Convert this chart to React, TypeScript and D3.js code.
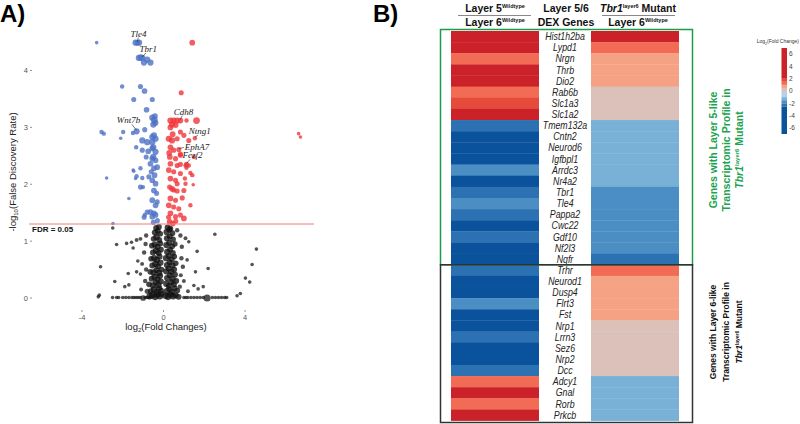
import React from "react";
import * as d3 from "d3";

// ---------- Panel A: volcano plot data (log2FC, -log10 FDR, weight) ----------
const bluePoints: number[][] = [
  [-3.28, 4.49, 1], [-1.37, 4.49, 3], [-1.27, 4.49, 2.5], [-1.2, 4.49, 3],
  [-1.21, 4.22, 3], [-1.12, 4.23, 3], [-1.04, 4.22, 3], [-0.96, 4.14, 3], [-0.8, 4.19, 3], [-0.64, 4.14, 3],
  [-2.03, 3.72, 1.5], [-1.13, 3.72, 2], [-0.93, 3.64, 2.5], [-1.46, 3.49, 2], [-0.55, 3.49, 2], [-0.83, 3.31, 2.5],
  [-0.55, 3.17, 3], [-0.45, 3.13, 3.5], [-0.4, 3.08, 3], [-0.5, 3.05, 3], [-0.42, 3.2, 2.5],
  [-3.04, 2.92, 1.5], [-2.93, 2.89, 1.5], [-2.1, 2.81, 1], [-1.98, 2.92, 1.5], [-1.5, 2.9, 1.5],
  [-1.32, 2.93, 3], [-1.34, 2.65, 1.5], [-0.92, 2.96, 2],
  [-1.04, 2.77, 3], [-0.8, 2.74, 3], [-0.55, 2.83, 3], [-0.47, 2.86, 3], [-0.39, 2.8, 3], [-0.55, 2.74, 3],
  [-0.75, 2.58, 2.5], [-0.5, 2.65, 3], [-0.39, 2.57, 3], [-0.5, 2.48, 3],
  [-1.04, 2.6, 2], [-0.55, 2.63, 2.5], [-0.85, 2.48, 2], [-0.55, 2.45, 2.5], [-0.39, 2.42, 2.5],
  [-0.64, 2.36, 2.5], [-0.31, 2.3, 2.5], [-0.47, 2.28, 2.5], [-1.13, 2.28, 1.5], [-1.49, 2.25, 1],
  [-0.6, 2.22, 2], [-0.44, 2.16, 2.5], [-0.72, 2.13, 2], [-2.79, 2.11, 1], [-1.37, 2.1, 1], [-1.04, 2.11, 1.5],
  [-0.55, 2.07, 2.5], [-0.39, 2.01, 2.5], [-0.47, 1.89, 2.5], [-0.34, 1.84, 2], [-1.13, 1.95, 2], [-1.7, 1.75, 1],
  [-0.55, 1.72, 2.5], [-0.31, 1.69, 2], [-0.39, 1.63, 2.5], [-0.64, 1.51, 2.5], [-0.47, 1.49, 2.5],
  [-0.55, 1.43, 2.5], [-0.39, 1.46, 2.5], [-0.92, 1.46, 1.5], [-2.48, 1.31, 1], [-1.32, 2.14, 1.5],
  [-1.46, 2.23, 1], [-1.01, 1.95, 1.5], [-0.8, 1.51, 2], [-0.3, 1.36, 2], [-0.5, 1.33, 2], [-0.95, 1.42, 2],
];

const redPoints: number[][] = [
  [1.41, 4.49, 2.5], [0.87, 3.61, 2], [0.34, 3.12, 3], [0.5, 3.12, 3], [0.67, 3.12, 3], [0.83, 3.12, 2.5],
  [1.13, 3.12, 1.5], [1.62, 3.12, 3.5], [0.42, 3.05, 3], [0.6, 3.04, 2.5],
  [6.63, 2.89, 1], [6.72, 2.83, 1],
  [0.34, 3.0, 2.5], [0.83, 2.92, 2], [0.26, 2.8, 3], [0.42, 2.77, 3], [0.67, 2.8, 2], [1.0, 2.86, 2],
  [1.24, 2.77, 2], [1.54, 2.81, 1.5], [0.34, 2.65, 2.5], [0.5, 2.6, 2], [0.75, 2.61, 2],
  [0.31, 2.48, 2.5], [0.59, 2.45, 2], [0.83, 2.51, 2], [1.49, 2.48, 1.5], [0.34, 2.36, 2.5],
  [0.67, 2.33, 2], [0.83, 2.35, 2], [1.13, 2.35, 2], [1.13, 2.29, 1.5], [0.26, 2.25, 2.5], [0.5, 2.22, 2],
  [0.83, 2.19, 2], [1.41, 2.16, 1.5], [0.34, 2.1, 2.5], [0.59, 2.07, 2], [0.67, 2.01, 2], [1.46, 1.99, 1],
  [0.42, 1.92, 2.5], [0.67, 1.88, 2], [1.0, 1.89, 2], [0.34, 1.75, 2.5], [0.59, 1.72, 2], [0.92, 1.76, 2],
  [0.26, 1.63, 2.5], [0.5, 1.6, 2], [0.75, 1.57, 2], [0.34, 1.49, 2.5], [0.59, 1.43, 2], [0.83, 1.46, 2],
  [1.0, 1.4, 2.5], [0.3, 1.34, 2.5], [0.45, 1.31, 2.5], [0.83, 2.53, 2], [1.08, 2.33, 1.5], [1.24, 2.33, 1.5],
  [1.32, 2.2, 1.5], [1.32, 1.63, 1.5], [1.08, 2.01, 1.5], [1.05, 2.1, 1.5], [0.5, 1.9, 2], [0.6, 1.35, 2],
  [0.25, 1.42, 2], [0.3, 1.95, 2], [0.28, 2.55, 2.5], [0.45, 2.88, 2.5],
];

const blackScatter: number[][] = [
  [-2.49, 1.23, 1], [2.52, 1.12, 1], [4.56, 0.86, 1], [-3.09, 0.55, 1], [4.35, 0.59, 1], [4.02, 0.35, 1],
  [4.23, 0.28, 1], [-2.39, 0.29, 1], [-1.9, 0.2, 1], [-1.7, 0.23, 1], [-2.3, 0.94, 1], [-1.81, 0.96, 1],
  [-1.57, 0.98, 1], [-1.32, 1.02, 1.2], [-1.13, 1.04, 1.2], [-1.49, 0.88, 1], [-1.26, 0.65, 1],
  [-1.32, 0.46, 1], [-1.13, 0.42, 1], [-1.73, 0.43, 1], [1.65, 0.82, 1], [1.57, 0.46, 1], [1.49, 0.22, 1],
  [1.7, 0.16, 1], [1.95, 0.2, 1], [2.19, 0.52, 1], [1.16, 0.67, 1], [1.08, 1.05, 1.2], [1.24, 0.99, 1],
  [0.83, 1.1, 1.5], [0.67, 1.19, 1.5], [3.77, 0.08, 1], [3.61, 0.04, 1], [-3.2, 0.02, 1], [-3.15, 0.05, 1],
  [-1.0, 0.0, 2.5], [2.14, 0.0, 4], [-0.95, 0.8, 1.5], [-0.9, 0.3, 1.5], [0.95, 0.55, 1.5], [0.9, 0.9, 1.5],
  [-1.05, 0.6, 1.2], [1.0, 0.3, 1.2], [-0.85, 1.1, 1.5], [0.85, 0.4, 1.3], [-1.1, 0.15, 1.2], [1.2, 0.12, 1.2],
  [-0.88, 0.95, 1.5], [0.88, 0.7, 1.5], [-0.85, 0.5, 1.5], [0.8, 0.2, 1.5], [-0.8, 0.12, 2],
];

const blackBaseline: number[] = [
  -2.5, -2.3, -2.2, -2.0, -1.85, -1.7, -1.55, -1.45, -1.35, -1.25, -1.15, -0.9, -0.8, -0.7,
  1.0, 1.1, 1.2, 1.35, 1.5, 1.65, 1.8, 1.95, 2.4, 2.55, 2.7, 2.85, 3.0, 3.1,
];

// the dense non-significant cloud near log2FC = 0
const blackCloud: number[][] = [
  [-0.68, 0.03, 2.5], [-0.55, 0.05, 2.5], [-0.41, 0.02, 2.5], [-0.3, 0.06, 2.5], [-0.18, 0.03, 2.5], [-0.09, 0.07, 2],
  [0.11, 0.04, 2.5], [0.22, 0.02, 2.5], [0.35, 0.06, 2.5], [0.47, 0.03, 2.5], [0.6, 0.05, 2], [0.74, 0.02, 2],
  [-0.62, 0.12, 2], [-0.47, 0.15, 2.3], [-0.33, 0.11, 2], [-0.21, 0.17, 2.2], [-0.12, 0.13, 2], [0.16, 0.12, 2.2],
  [0.29, 0.16, 2], [0.42, 0.11, 2.2], [0.55, 0.17, 2], [0.68, 0.13, 1.8],
  [-0.71, 0.24, 1.8], [-0.52, 0.22, 2.2], [-0.38, 0.27, 2], [-0.25, 0.23, 2.3], [-0.13, 0.29, 2], [0.14, 0.25, 2.3],
  [0.26, 0.21, 2], [0.39, 0.28, 2.2], [0.51, 0.24, 2], [0.63, 0.3, 1.8],
  [-0.58, 0.34, 2], [-0.44, 0.37, 2.3], [-0.29, 0.33, 2], [-0.17, 0.39, 2.2], [0.18, 0.35, 2.2], [0.31, 0.4, 2],
  [0.45, 0.34, 2.2], [0.57, 0.41, 1.8],
  [-0.65, 0.46, 1.8], [-0.49, 0.45, 2.2], [-0.35, 0.49, 2], [-0.22, 0.44, 2.3], [-0.1, 0.5, 1.8], [0.13, 0.47, 2.2],
  [0.25, 0.52, 2], [0.38, 0.46, 2.2], [0.52, 0.5, 2],
  [-0.55, 0.57, 2], [-0.4, 0.6, 2.3], [-0.27, 0.56, 2], [-0.15, 0.62, 2.2], [0.17, 0.58, 2.2], [0.3, 0.63, 2],
  [0.44, 0.57, 2.2], [0.6, 0.61, 1.8],
  [-0.61, 0.69, 1.8], [-0.46, 0.7, 2.2], [-0.32, 0.67, 2.2], [-0.19, 0.73, 2], [0.12, 0.7, 2.2], [0.26, 0.74, 2],
  [0.4, 0.68, 2.2], [0.53, 0.73, 1.8],
  [-0.52, 0.8, 2], [-0.37, 0.83, 2.3], [-0.24, 0.79, 2], [-0.12, 0.85, 1.8], [0.18, 0.81, 2.2], [0.32, 0.85, 2],
  [0.46, 0.79, 2],
  [-0.57, 0.92, 1.8], [-0.43, 0.94, 2.2], [-0.29, 0.9, 2.2], [-0.16, 0.96, 2], [0.14, 0.93, 2.2], [0.28, 0.97, 2],
  [0.42, 0.91, 2], [0.56, 0.95, 1.6],
  [-0.48, 1.04, 2], [-0.34, 1.07, 2.3], [-0.21, 1.02, 2], [0.17, 1.05, 2.2], [0.31, 1.08, 2], [0.47, 1.03, 1.8],
  [-0.42, 1.15, 2.2], [-0.28, 1.18, 2], [-0.16, 1.13, 1.8], [0.15, 1.16, 2.2], [0.29, 1.2, 2], [0.44, 1.14, 1.8],
  [-0.36, 1.23, 2], [-0.22, 1.25, 1.8], [0.2, 1.24, 2], [0.34, 1.22, 1.8],
];

const geneLabels = [
  { gene: "Tle4", x: -1.27, y: 4.49 },
  { gene: "Tbr1", x: -1.04, y: 4.22 },
  { gene: "Cdh8", x: 0.83, y: 3.12 },
  { gene: "Wnt7b", x: -1.32, y: 2.93 },
  { gene: "Ntng1", x: 1.54, y: 2.81 },
  { gene: "EphA7", x: 0.75, y: 2.61 },
  { gene: "Fezf2", x: 1.13, y: 2.35 },
];
// label text offsets from the point, px
const labelOffsets: Record<string, [number, number]> = {
  Tle4: [1, -6], Tbr1: [6, -6], Cdh8: [3, -6], Wnt7b: [-8, -8],
  Ntng1: [5, -4], EphA7: [6, 0], Fezf2: [6, -6],
};

const fdrCut = -Math.log10(0.05);
const xTicks = [-4, 0, 4];
const yTicks = [0, 1, 2, 3, 4];

// ---------- Panel B: heatmap ----------
const genes = [
  "Hist1h2ba", "Lypd1", "Nrgn", "Thrb", "Dio2", "Rab6b", "Slc1a3", "Slc1a2", "Tmem132a", "Cntn2",
  "Neurod6", "Igfbpl1", "Arrdc3", "Nr4a2", "Tbr1", "Tle4", "Pappa2", "Cwc22", "Gdf10", "Nf2l3", "Nqfr",
  "Trhr", "Neurod1", "Dusp4", "Flrt3", "Fst", "Nrp1", "Lrrn3", "Sez6", "Nrp2", "Dcc", "Adcy1", "Gnal",
  "Rorb", "Prkcb",
];
const wildtypeFC = [
  3.5, 3.0, 1.2, 3.2, 2.8, 1.2, 1.7, 2.6, -2.2, -3.5,
  -3.2, -3.0, -1.8, -3.1, -2.3, -1.9, -2.2, -2.8, -2.2, -2.9, -3.0,
  -2.3, -3.3, -3.0, -1.8, -3.1, -2.7, -2.2, -2.8, -2.9, -2.3, 1.2, 2.6,
  1.2, 2.5,
];
const mutantFC = [
  3.0, 1.2, 0.7, 0.7, 0.7, 0.3, 0.3, 0.3, -1.2, -1.2,
  -1.2, -1.2, -1.2, -1.2, -1.7, -1.7, -1.7, -1.7, -1.7, -1.7, -2.2,
  1.2, 0.7, 0.7, 0.7, 0.7, 0.3, 0.3, 0.3, 0.3, 0.3, -1.2, -1.2,
  -1.2, -1.2,
];
const layer5Count = 21;
const colorBreaks = [-2.5, -2, -1.5, -1, 0, 0.5, 1, 1.5, 2];
const colorSteps = ["#0a529b", "#2c72b2", "#4a8ec4", "#79b0d6", "#b8d0e3", "#dbc1b9", "#f5a183", "#f26c55", "#e64a3b", "#cb2128"];
const legendTicks = [-6, -4, -2, 0, 2, 4, 6];

const SANS = "'Liberation Sans', Arial, sans-serif";
const SERIF = "'Liberation Serif', 'Times New Roman', serif";

export default function App() {
  // volcano scales
  const x = d3.scaleLinear().domain([-6.6, 7.4]).range([29, 314.3]);
  const y = d3.scaleLinear().domain([0, 4]).range([298, 70.5]);
  const r = d3.scaleSqrt().domain([0, 4]).range([0, 3.6]);
  const rCloud = d3.scaleSqrt().domain([0, 4]).range([0, 4.2]);

  const blackAll: number[][] = [
    ...blackBaseline.map((v) => [v, 0.01, 1]),
    ...blackScatter,
  ];

  // heatmap scales
  const row = d3.scaleBand().domain(genes).range([31, 420.6]);
  const color = d3.scaleThreshold<number, string>().domain(colorBreaks).range(colorSteps);
  const legendY = d3.scaleLinear().domain([-7, 7]).range([134, 48]);
  const legendEdges = [-7, ...colorBreaks, 7];

  const col1 = { x0: 451, x1: 539 };
  const col2 = { x0: 591, x1: 679 };
  const geneX = 565;
  const splitY = row(genes[layer5Count]) as number;

  return (
    <svg width={800} height={424} style={{ position: "absolute", left: 0, top: 0, background: "#fff" }} fontFamily={SANS}>
      <rect width={800} height={424} fill="#fff" />
      {/* panel letters */}
      <text x={0} y={22} fontSize={24} fontWeight="bold">A)</text>
      <text x={373} y={22} fontSize={24} fontWeight="bold">B)</text>

      {/* ---------- volcano ---------- */}
      {yTicks.map((t) => (
        <g key={"yt" + t}>
          <text x={28} y={y(t)} dy="0.35em" fontSize={7.5} fill="#555" textAnchor="end">{t}</text>
          <line x1={30} x2={32} y1={y(t)} y2={y(t)} stroke="#777" strokeWidth={0.8} />
        </g>
      ))}
      {xTicks.map((t) => (
        <g key={"xt" + t}>
          <line x1={x(t)} x2={x(t)} y1={310} y2={312} stroke="#777" strokeWidth={0.8} />
          <text x={x(t)} y={320} fontSize={7.5} fill="#555" textAnchor="middle">{t}</text>
        </g>
      ))}
      <text x={166} y={330} fontSize={9.5} fill="#222" textAnchor="middle">
        log<tspan fontSize={6} dy={2}>2</tspan><tspan dy={-2}>(Fold Changes)</tspan>
      </text>
      <text transform="translate(16,172) rotate(-90)" fontSize={9.5} fill="#222" textAnchor="middle">
        -log<tspan fontSize={6} dy={2}>10</tspan><tspan dy={-2}>(False Discovery Rate)</tspan>
      </text>

      {blackAll.map((d, i) => (
        <circle key={"k" + i} cx={x(d[0])} cy={y(d[1])} r={r(d[2])} fill="#111" fillOpacity={0.72} />
      ))}
      {blackCloud.map((d, i) => (
        <circle key={"c" + i} cx={x(d[0])} cy={y(d[1])} r={rCloud(d[2])} fill="#111" fillOpacity={0.78} />
      ))}
      {bluePoints.map((d, i) => (
        <circle key={"b" + i} cx={x(d[0])} cy={y(d[1])} r={r(d[2])} fill="#4d72c6" fillOpacity={0.8} />
      ))}
      {redPoints.map((d, i) => (
        <circle key={"r" + i} cx={x(d[0])} cy={y(d[1])} r={r(d[2])} fill="#f0343a" fillOpacity={0.8} />
      ))}

      <line x1={29} x2={314} y1={y(fdrCut)} y2={y(fdrCut)} stroke="#e8807a" strokeWidth={1} />
      <text x={32} y={y(fdrCut) + 8} fontSize={8} fontWeight="bold" fill="#111">FDR = 0.05</text>

      {geneLabels.map((g) => {
        const [dx, dy] = labelOffsets[g.gene];
        const px = x(g.x), py = y(g.y);
        const isSide = g.gene === "EphA7";
        return (
          <g key={g.gene}>
            <line x1={px} y1={py - 1} x2={isSide ? px + dx - 1 : px + dx * 0.6} y2={isSide ? py - 2 : py + dy + 1}
              stroke="#222" strokeWidth={0.6} />
            <text x={px + dx} y={py + dy} fontSize={9} fontStyle="italic" fontFamily={SERIF} fill="#222"
              textAnchor={isSide ? "start" : "middle"}>{g.gene}</text>
          </g>
        );
      })}

      {/* ---------- heatmap headers ---------- */}
      <g fontWeight="bold" fontSize={10.5} fill="#111" textAnchor="middle">
        <text x={495} y={12}>Layer 5<tspan fontSize={5.5} dy={-4}>Wildtype</tspan></text>
        <text x={495} y={26}>Layer 6<tspan fontSize={5.5} dy={-4}>Wildtype</tspan></text>
        <text x={566} y={12}>Layer 5/6</text>
        <text x={566} y={26}>DEX Genes</text>
        <text x={638} y={12}><tspan fontStyle="italic">Tbr1</tspan><tspan fontSize={5.5} dy={-4}>layer6</tspan><tspan dy={4}> Mutant</tspan></text>
        <text x={638} y={26}>Layer 6<tspan fontSize={5.5} dy={-4}>Wildtype</tspan></text>
      </g>
      <line x1={458} x2={531} y1={15.5} y2={15.5} stroke="#888" />
      <line x1={602} x2={675} y1={15.5} y2={15.5} stroke="#888" />

      {/* ---------- heatmap cells ---------- */}
      {genes.map((g, i) => (
        <g key={g}>
          <rect x={col1.x0} y={row(g)} width={col1.x1 - col1.x0} height={row.bandwidth() + 0.3} fill={color(wildtypeFC[i])} />
          <rect x={col2.x0} y={row(g)} width={col2.x1 - col2.x0} height={row.bandwidth() + 0.3} fill={color(mutantFC[i])} />
          <text transform={`translate(${geneX},${(row(g) as number) + row.bandwidth() / 2}) scale(0.88,1)`}
            dy="0.36em" fontSize={10} fontStyle="italic" fill="#222" textAnchor="middle">{g}</text>
        </g>
      ))}

      {/* group boxes */}
      <rect x={440.5} y={29.5} width={252} height={splitY - 29.5} fill="none" stroke="#1b9e4b" strokeWidth={1.5} />
      <rect x={440.5} y={splitY} width={252} height={422.5 - splitY} fill="none" stroke="#333" strokeWidth={1.5} />

      {/* side captions */}
      <g transform={`translate(726,150) rotate(-90)`} fontWeight="bold" fontSize={10.5} fill="#1ca34f" textAnchor="middle">
        <text y={-13} dy="0.35em">Genes with Layer 5-like</text>
        <text y={0} dy="0.35em">Transcriptomic Profile in</text>
        <text y={13} dy="0.35em"><tspan fontStyle="italic">Tbr1</tspan><tspan fontSize={6} dy={-4}>layer6</tspan><tspan dy={4}> Mutant</tspan></text>
      </g>
      <g transform={`translate(726,332) rotate(-90)`} fontWeight="bold" fontSize={8.5} fill="#111" textAnchor="middle">
        <text y={-13} dy="0.35em">Genes with Layer 6-like</text>
        <text y={0} dy="0.35em">Transcriptomic Profile in</text>
        <text y={13} dy="0.35em"><tspan fontStyle="italic">Tbr1</tspan><tspan fontSize={5} dy={-3}>layer6</tspan><tspan dy={3}> Mutant</tspan></text>
      </g>

      {/* color legend */}
      <text x={799} y={43} fontSize={5} fill="#333" textAnchor="end">
        Log<tspan fontSize={3.5} dy={1.5}>2</tspan><tspan dy={-1.5}>(Fold Change)</tspan>
      </text>
      {legendEdges.slice(0, -1).map((lo, i) => {
        const hi = legendEdges[i + 1];
        return (
          <rect key={"lg" + i} x={781.5} y={legendY(hi)} width={5.5} height={legendY(lo) - legendY(hi)} fill={colorSteps[i]} />
        );
      })}
      {legendTicks.map((t) => (
        <text key={"lt" + t} x={789} y={legendY(t)} dy="0.35em" fontSize={6.5} fill="#444">{t}</text>
      ))}
    </svg>
  );
}
